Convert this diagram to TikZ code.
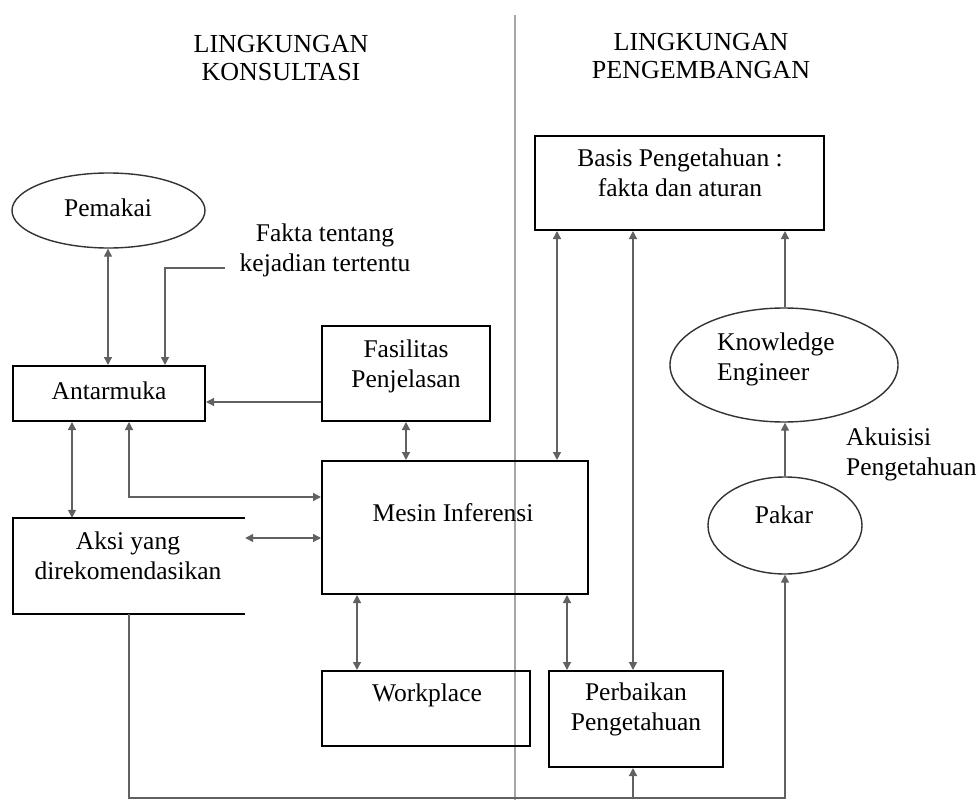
\documentclass[tikz,border=0pt]{standalone}
\usepackage{fontspec}
\setmainfont{Liberation Serif}
\usetikzlibrary{arrows.meta,shapes.geometric}
\begin{document}
\begin{tikzpicture}[x=1pt,y=-1pt,
  box/.style={draw=black,line width=2pt,rectangle,inner sep=0pt},
  ell/.style={draw=black!80,line width=1.4pt,ellipse,inner sep=0pt},
  txt/.style={font=\fontsize{25.5}{30}\selectfont,align=center,inner sep=0pt},
  head/.style={font=\fontsize{26}{28}\selectfont,align=center,inner sep=0pt},
  con/.style={draw=black!62,line width=1.4pt},
  >={Triangle[length=8pt,width=8pt]}]
\useasboundingbox (0,0) rectangle (978,800);
\fill[white] (0,0) rectangle (978,800);

% separator
\draw[black!35,line width=2.5pt] (515,15) -- (515,800);

% headings
\node[head] (h1) at (281,58) {LINGKUNGAN\\KONSULTASI};
\node[head] (h2) at (701,56) {LINGKUNGAN\\PENGEMBANGAN};

% nodes
\node[ell,minimum width=193,minimum height=75] (pem) at (108.5,210.5) {};
\node[txt] (pemT) at (108,208) {Pemakai};

\node[box,minimum width=192,minimum height=55] (ant) at (109,393.5) {};
\node[txt] (antT) at (109,391) {Antarmuka};

\node[txt] (fakta) at (325,250) {Fakta tentang\\kejadian tertentu};

\node[box,minimum width=168,minimum height=95] (fas) at (406,373.5) {};
\node[txt] (fasT) at (406,366) {Fasilitas\\Penjelasan};

\node[rectangle,inner sep=0pt,minimum width=232,minimum height=96] (aksi) at (129,566) {};
\draw[black,line width=2pt] (aksi.north east) -- (aksi.north west) -- (aksi.south west) -- (aksi.south east);
\node[txt] (aksiT) at (128,556) {Aksi yang\\direkomendasikan};

\node[box,minimum width=266,minimum height=133] (mes) at (455,527.5) {};
\node[txt] (mesT) at (453,513) {Mesin Inferensi};

\node[box,minimum width=208,minimum height=75] (wrk) at (426,708.5) {};
\node[txt] (wrkT) at (427,695) {Workplace};

\node[box,minimum width=174,minimum height=96] (per) at (636,719) {};
\node[txt] (perT) at (636,709) {Perbaikan\\Pengetahuan};

\node[box,minimum width=289,minimum height=94] (bas) at (679.5,183) {};
\node[txt] (basT) at (680,173) {Basis Pengetahuan :\\fakta dan aturan};

\node[ell,minimum width=228,minimum height=114] (ke) at (784,365) {};
\node[txt,align=left,anchor=west] (keT) at (717,359) {Knowledge\\Engineer};

\node[ell,minimum width=154,minimum height=97] (pak) at (785,525.5) {};
\node[txt] (pakT) at (784,515) {Pakar};

\node[txt,align=left,anchor=west] (akT) at (846,454) {Akuisisi\\Pengetahuan};

\coordinate (fk) at (225,268);
\coordinate (bl) at (129,798);
\coordinate (br) at (785,798);

% connectors
\draw[con,<->] (pem.south -| 108,0) -- (ant.north -| 108,0);
\draw[con,->] (fk) -- (165,268) -- (ant.north -| 165,0);
\draw[con,->] (fas.west |- 0,402) -- (ant.east |- 0,402);
\draw[con,<->] (ant.south -| 72,0) -- (aksi.north -| 72,0);
\draw[con,<->] (ant.south -| 129,0) -- (129,497) -- (mes.west |- 0,497);
\draw[con,<->] (aksi.east |- 0,538) -- (mes.west |- 0,538);
\draw[con,<->] (fas.south -| 406,0) -- (mes.north -| 406,0);
\draw[con,<->] (mes.south -| 357,0) -- (wrk.north -| 357,0);
\draw[con,<->] (mes.south -| 567,0) -- (per.north -| 567,0);
\draw[con,<->] (bas.south -| 557,0) -- (mes.north -| 557,0);
\draw[con,<->] (bas.south -| 633,0) -- (per.north -| 633,0);
\draw[con,->] (ke.north -| 785,0) -- (bas.south -| 785,0);
\draw[con,->] (pak.north -| 785,0) -- (ke.south -| 785,0);
\draw[con,->] (aksi.south -| 129,0) -- (bl) -- (br) -- (pak.south -| 785,0);
\draw[con,->] (633,798) -- (per.south -| 633,0);
\end{tikzpicture}
\end{document}
